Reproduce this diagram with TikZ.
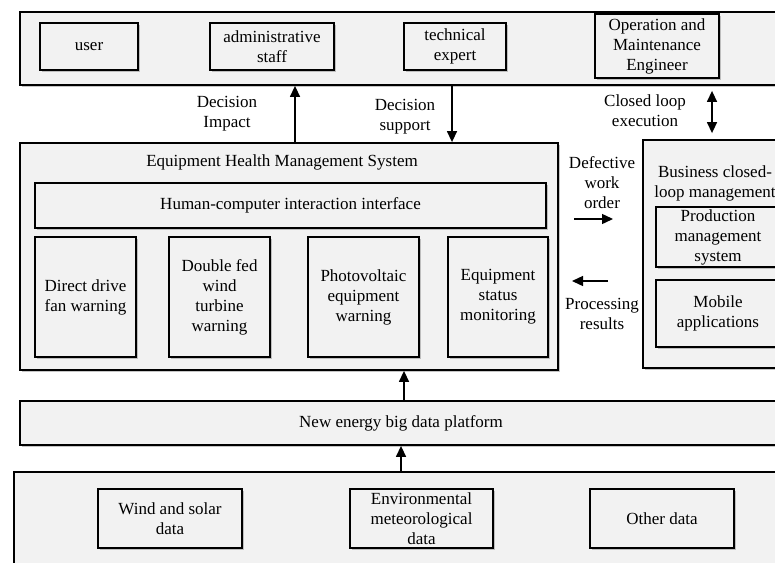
\documentclass[tikz,border=0pt]{standalone}
\usepackage{fontspec}
\setmainfont{Liberation Serif}
\usetikzlibrary{shadows,arrows.meta}
\definecolor{boxfill}{HTML}{F2F2F2}
\newcommand\fs{\fontsize{17}{20}\selectfont}
\begin{document}
\begin{tikzpicture}[x=1pt,y=-1pt,
  box/.style={draw, line width=1.8pt, fill=boxfill, inner sep=2pt, align=center, font=\fs,
    drop shadow={shadow xshift=2pt, shadow yshift=-2pt, fill=black!45, opacity=0.5}},
  lbl/.style={align=center, font=\fs, inner sep=0pt},
  arr/.style={line width=1.4pt, -{Triangle[length=11pt,width=10pt]}},
  darr/.style={line width=1.4pt, {Triangle[length=11pt,width=10pt]}-{Triangle[length=11pt,width=10pt]}}]
\useasboundingbox (0,0) rectangle (775,562);
\clip (0,0) rectangle (775,562);
\fill[white] (0,0) rectangle (775,562);

% top layer
\node[box, minimum width=770, minimum height=73] (top) at (405,48.5) {};
\node[box, minimum width=98, minimum height=47] (user) at (89,46.5) {user};
\node[box, minimum width=124, minimum height=47] (admin) at (272,46.5) {administrative\\staff};
\node[box, minimum width=102, minimum height=47] (tech) at (455,46.5) {technical\\expert};
\node[box, minimum width=124, minimum height=64] (om) at (657,46) {Operation and\\Maintenance\\Engineer};

% EHMS
\node[box, minimum width=538, minimum height=227] (ehms) at (289,256.5) {};
\node[lbl] (ehmst) at (282,162) {Equipment Health Management System};
\node[box, minimum width=511, minimum height=45] (hci) at (290.5,205.5) {Human-computer interaction interface};
\node[box, minimum width=101, minimum height=120] (b1) at (85.5,297) {Direct drive\\fan warning};
\node[box, minimum width=101, minimum height=120] (b2) at (219.5,297) {Double fed\\wind\\turbine\\warning};
\node[box, minimum width=111, minimum height=120] (b3) at (363.5,297) {Photovoltaic\\equipment\\warning};
\node[box, minimum width=100, minimum height=120] (b4) at (498,297) {Equipment\\status\\monitoring};

% Business
\node[box, minimum width=147, minimum height=228] (bus) at (716.5,254) {};
\node[lbl] (bust) at (715,183) {Business closed-\\loop management};
\node[box, minimum width=124, minimum height=60] (prod) at (718,237) {Production\\management\\system};
\node[box, minimum width=124, minimum height=67] (mob) at (718,313.5) {Mobile\\applications};

% platform
\node[box, minimum width=762, minimum height=44] (nebd) at (401,423) {New energy big data platform};

% data layer
\node[box, minimum width=776, minimum height=130] (bot) at (402,537) {};
\node[box, minimum width=144, minimum height=59] (wind) at (170,518.5) {Wind and solar\\data};
\node[box, minimum width=143, minimum height=59] (env) at (421.5,518.5) {Environmental\\meteorological\\data};
\node[box, minimum width=144, minimum height=59] (oth) at (662,518.5) {Other data};

% labels
\node[lbl] (l1) at (227,114) {Decision\\Impact};
\node[lbl] (l2) at (405,117) {Decision\\support};
\node[lbl] (l3) at (645,111) {Closed loop\\execution};
\node[lbl] (l4) at (602,183) {Defective\\work\\order};
\node[lbl] (l5) at (602,314) {Processing\\results};

% connectors
\coordinate (xa) at (295,0);
\coordinate (xb) at (452,0);
\coordinate (xc) at (712,0);
\coordinate (xd) at (404,0);
\coordinate (xe) at (401,0);
\draw[arr] (ehms.north -| xa) -- (top.south -| xa);
\draw[arr] (top.south -| xb) -- (ehms.north -| xb);
\draw[darr, shorten <=5pt, shorten >=6pt] (top.south -| xc) -- (bus.north -| xc);
\draw[arr] (nebd.north -| xd) -- (ehms.south -| xd);
\draw[arr] (bot.north -| xe) -- (nebd.south -| xe);
\coordinate (r1) at (574,219);
\coordinate (r2) at (613,219);
\coordinate (q1) at (608,281);
\coordinate (q2) at (572,281);
\draw[arr] (r1) -- (r2);
\draw[arr] (q1) -- (q2);
\end{tikzpicture}
\end{document}
